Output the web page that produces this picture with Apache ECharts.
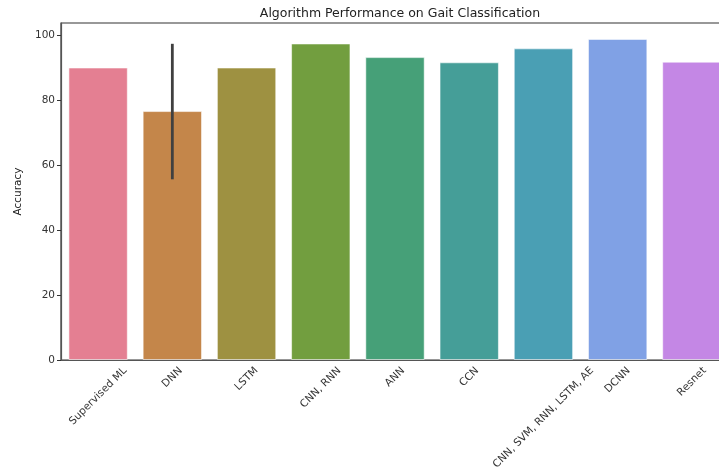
<!DOCTYPE html>
<html>
<head>
<meta charset="utf-8">
<script src="https://cdn.jsdelivr.net/npm/echarts@6/dist/echarts.min.js"></script>
<style>
html, body {margin:0; padding:0; background:#fff;}
#chart {width:719px; height:468px;}
</style>
</head>
<body>
<div id="chart"></div>
<script>
//类别和准确率
var categories = ['Supervised ML', 'DNN', 'LSTM', 'CNN, RNN', 'ANN', 'CCN', 'CNN, SVM, RNN, LSTM, AE', 'DCNN', 'Resnet'];
var accuracy = [90, 76.6, 90, 97.4, 93.2, 91.6, 95.9, 98.8, 91.8];
var barColors = ['#e47f92', '#c4864a', '#9e9141', '#729e3f', '#46a078', '#459e98', '#4a9fb4', '#80a1e5', '#c487e5'];
var yTicks = [0, 20, 40, 60, 80, 100];

//误差线
var errCategory = ['DNN'];
var errLow = [55.6];
var errHigh = [97.3];

var fontFamily = 'DejaVu Sans';
var labelSize = 10.5;

//按文字宽度给每个x轴标签加内边距，让旋转后的标签以刻度为中心
var ctx = document.createElement('canvas').getContext('2d');
ctx.font = labelSize + 'px "' + fontFamily + '"';
var xRich = {};
for (var i = 0; i < categories.length; i++) {
	var w = ctx.measureText(categories[i]).width;
	xRich['l' + i] = {
		padding: [w / 2, w / 2, 0, 0],
		fontSize: labelSize,
		fontFamily: fontFamily,
		color: '#333'
	};
}

var barData = [];
for (var i = 0; i < accuracy.length; i++) {
	barData.push({value: accuracy[i], itemStyle: {color: barColors[i]}});
}

var errData = [];
for (var i = 0; i < errCategory.length; i++) {
	errData.push([categories.indexOf(errCategory[i]), errLow[i], errHigh[i]]);
}

var chart = echarts.init(document.getElementById('chart'));
var option = {
	animation: false,
	backgroundColor: '#fff',
	title: {
		text: 'Algorithm Performance on Gait Classification',
		left: 395,
		top: 2,
		textAlign: 'center',
		textStyle: {fontSize: 12.5, fontWeight: 'normal', color: '#222', fontFamily: fontFamily}
	},
	grid: {
		left: 61,
		right: -10,
		top: 23,
		bottom: 108,
		outerBoundsMode: 'none',
		containLabel: false,
		show: true,
		borderColor: '#333',
		borderWidth: 1.2,
		backgroundColor: 'transparent'
	},
	xAxis: {
		type: 'category',
		data: categories,
		axisLine: {lineStyle: {color: '#555', width: 1.2}},
		axisTick: {alignWithLabel: true, length: 4, lineStyle: {color: '#333'}},
		axisLabel: {
			interval: 0,
			rotate: 45,
			align: 'center',
			verticalAlign: 'middle',
			margin: 9,
			formatter: function (value, index) {
				return '{l' + index + '|' + value + '}';
			},
			rich: xRich
		}
	},
	yAxis: {
		type: 'value',
		min: 0,
		max: 103.7,
		interval: 20,
		name: 'Accuracy',
		nameLocation: 'middle',
		nameRotate: 90,
		nameGap: 37,
		nameTextStyle: {fontSize: 10.5, color: '#222', fontFamily: fontFamily},
		axisLine: {show: true, lineStyle: {color: '#555', width: 1.2}},
		axisTick: {show: true, length: 4, customValues: yTicks, lineStyle: {color: '#333'}},
		axisLabel: {customValues: yTicks, fontSize: 10.5, color: '#333', fontFamily: fontFamily, margin: 6},
		splitLine: {show: false}
	},
	series: [
		{
			name: 'Accuracy',
			type: 'bar',
			barWidth: '80%',
			itemStyle: {borderColor: 'rgba(255,255,255,0.55)', borderWidth: 1},
			data: barData
		},
		{
			name: 'error',
			type: 'custom',
			data: errData,
			encode: {x: 0, y: [1, 2]},
			z: 5,
			renderItem: function (params, api) {
				var lo = api.coord([api.value(0), api.value(1)]);
				var hi = api.coord([api.value(0), api.value(2)]);
				return {
					type: 'line',
					shape: {x1: lo[0], y1: lo[1], x2: hi[0], y2: hi[1]},
					style: {stroke: '#404040', lineWidth: 2.8}
				};
			}
		}
	]
};
chart.setOption(option);
</script>
</body>
</html>
